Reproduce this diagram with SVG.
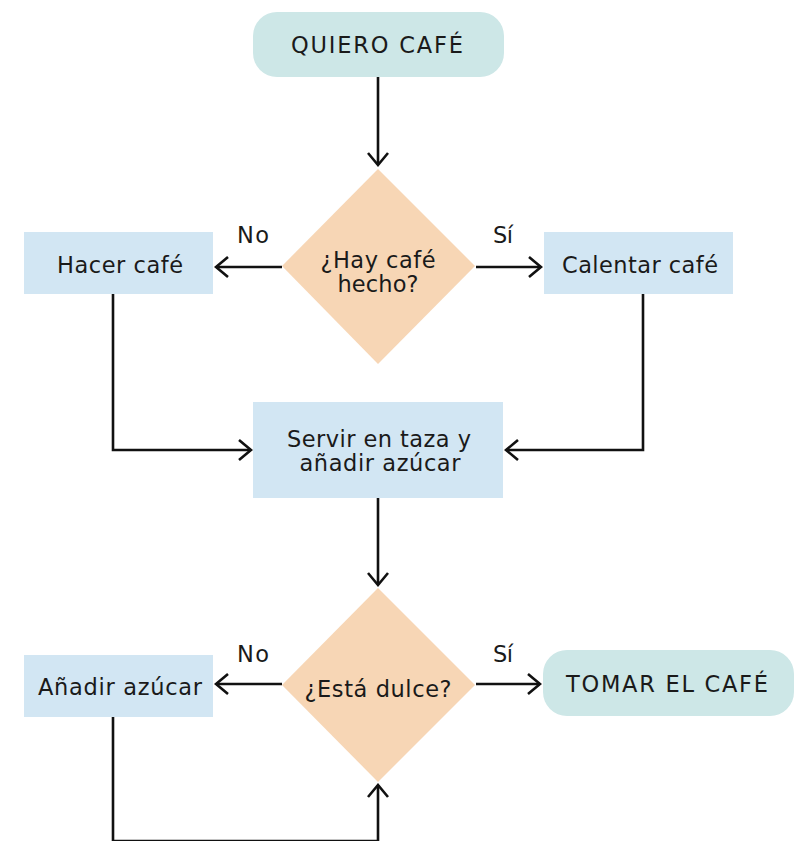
<svg xmlns="http://www.w3.org/2000/svg" width="800" height="841" viewBox="0 0 800 841">
<style>
text{font-family:"DejaVu Sans","Liberation Sans",sans-serif;font-size:22.5px;fill:#1a1a1a;text-anchor:middle}
.term{fill:#cde7e7}
.proc{fill:#d2e6f3}
.dec{fill:#f7d6b5}
.conn{fill:none;stroke:#111;stroke-width:2.6}
</style>
<defs>
<marker id="arr" viewBox="-15 -12 17 24" refX="0" refY="0" markerWidth="17" markerHeight="24" markerUnits="userSpaceOnUse" orient="auto">
<path d="M-12,-10 L0,0 L-12,10" fill="none" stroke="#111" stroke-width="2.6"/>
</marker>
</defs>
<g id="connectors">
<path class="conn" d="M378,77 V165" marker-end="url(#arr)"/>
<path class="conn" d="M282,267 H216" marker-end="url(#arr)"/>
<path class="conn" d="M476,267 H541" marker-end="url(#arr)"/>
<path class="conn" d="M113,294 V450 H251" marker-end="url(#arr)"/>
<path class="conn" d="M643,294 V450 H506" marker-end="url(#arr)"/>
<path class="conn" d="M378,498 V585" marker-end="url(#arr)"/>
<path class="conn" d="M282,684 H216" marker-end="url(#arr)"/>
<path class="conn" d="M476,684 H540" marker-end="url(#arr)"/>
<path class="conn" d="M113,717 V841 H378 V785" marker-end="url(#arr)"/>
<text x="253" y="243" textLength="32" lengthAdjust="spacing">No</text>
<text x="503" y="243" textLength="20" lengthAdjust="spacing">Sí</text>
<text x="253" y="662" textLength="32" lengthAdjust="spacing">No</text>
<text x="503" y="662" textLength="20" lengthAdjust="spacing">Sí</text>
</g>
<g id="start">
<rect class="term" x="253" y="12" width="251" height="65" rx="24"/>
<text x="377" y="53" textLength="172" lengthAdjust="spacing">QUIERO CAFÉ</text>
</g>
<g id="dec1">
<polygon class="dec" points="378,169 475,266 378,364 282,266"/>
<text x="378" y="268" textLength="115" lengthAdjust="spacing">¿Hay café</text>
<text x="378" y="292" textLength="81" lengthAdjust="spacing">hecho?</text>
</g>
<g id="hacer">
<rect class="proc" x="24" y="232" width="189" height="62"/>
<text x="120" y="273" textLength="126" lengthAdjust="spacing">Hacer café</text>
</g>
<g id="calentar">
<rect class="proc" x="544" y="232" width="189" height="62"/>
<text x="640" y="273" textLength="156" lengthAdjust="spacing">Calentar café</text>
</g>
<g id="servir">
<rect class="proc" x="253" y="402" width="250" height="96"/>
<text x="379" y="447" textLength="184" lengthAdjust="spacing">Servir en taza y</text>
<text x="380" y="471" textLength="161" lengthAdjust="spacing">añadir azúcar</text>
</g>
<g id="dec2">
<polygon class="dec" points="378,588 475,685 378,782 282,685"/>
<text x="378" y="697" textLength="147" lengthAdjust="spacing">¿Está dulce?</text>
</g>
<g id="anadir">
<rect class="proc" x="24" y="655" width="189" height="62"/>
<text x="120" y="695" textLength="164" lengthAdjust="spacing">Añadir azúcar</text>
</g>
<g id="tomar">
<rect class="term" x="543" y="650" width="251" height="66" rx="24"/>
<text x="667" y="692" textLength="202" lengthAdjust="spacing">TOMAR EL CAFÉ</text>
</g>
</svg>
